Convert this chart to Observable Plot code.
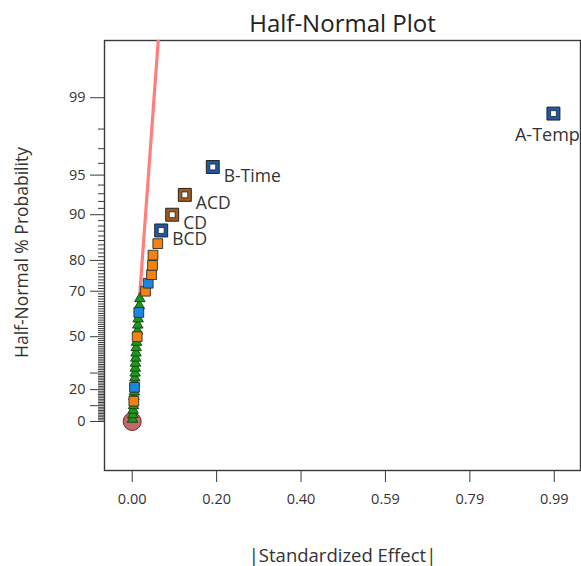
<!DOCTYPE html>
<html>
<head>
<meta charset="utf-8">
<script src="https://cdn.jsdelivr.net/npm/d3@7"></script>
<script src="https://cdn.jsdelivr.net/npm/@observablehq/plot@0.6"></script>
<style>
  html, body { margin: 0; padding: 0; background: #fff; overflow: hidden; }
  #chart svg { display: block; overflow: hidden !important; }
</style>
</head>
<body>
<div id="chart"></div>
<script>
// Terms ranked by |standardized effect| (smallest first)
const effect = [
  0.0007, 0.0014, 0.0021, 0.0030, 0.0038, 0.0042, 0.0049, 0.0054, 0.0059, 0.0063,
  0.0068, 0.0073, 0.0077, 0.0084, 0.0089, 0.0094, 0.0101, 0.0117, 0.0124, 0.0131,
  0.0138, 0.0155, 0.0167, 0.0178, 0.0312, 0.0375, 0.0453, 0.0476, 0.0488, 0.0600,
  0.068, 0.0938, 0.1234, 0.189, 0.988
];
// Half-normal % probability of each ranked term
const halfNormalPct = [
  1.43, 4.29, 7.14, 10.00, 12.86, 15.71, 18.57, 21.43, 24.29, 27.14,
  30.00, 32.86, 35.71, 38.57, 41.43, 44.29, 47.14, 50.00, 52.86, 55.71,
  58.57, 61.43, 64.29, 67.14, 70.00, 72.86, 75.71, 78.57, 81.43, 84.29,
  87.14, 90.00, 92.86, 95.71, 98.57
];
// "error" = error estimate, "pos" = positive effect, "neg" = negative effect
const termKind = [
  "error", "error", "error", "error", "neg", "error", "error", "pos", "error", "error",
  "error", "error", "error", "error", "error", "error", "error", "neg", "error", "error",
  "error", "pos", "error", "error", "neg", "pos", "neg", "neg", "neg", "neg",
  "pos", "neg", "neg", "pos", "pos"
];
// Terms chosen for the model carry a label
const termLabel = [
  "", "", "", "", "", "", "", "", "", "",
  "", "", "", "", "", "", "", "", "", "",
  "", "", "", "", "", "", "", "", "", "",
  "BCD", "CD", "ACD", "B-Time", "A-Temp"
];

// Reference line through the error terms
const lineEffect = [-0.004, 0.061];
const linePct = [0, 99.755];

// Axis ticks
const xTicks = [0, 0.198, 0.396, 0.594, 0.792, 0.99];
const yLabelPct = [0, 20, 50, 70, 80, 90, 95, 99];
const yLongPct = [10, 30];
const yMinorPct = d3.range(1, 99).filter(p => !yLabelPct.includes(p) && !yLongPct.includes(p));

// Inverse standard normal CDF (Acklam's rational approximation)
function probit(p) {
  const a = [-3.969683028665376e+01, 2.209460984245205e+02, -2.759285104469687e+02,
             1.383577518672690e+02, -3.066479806614716e+01, 2.506628277459239e+00];
  const b = [-5.447609879822406e+01, 1.615858368580409e+02, -1.556989798598866e+02,
             6.680131188771972e+01, -1.328068155288572e+01];
  const c = [-7.784894002430293e-03, -3.223964580411365e-01, -2.400758277161838e+00,
             -2.549732539343734e+00, 4.374664141464968e+00, 2.938163982698783e+00];
  const d = [7.784695709041462e-03, 3.224671290700398e-01, 2.445134137142996e+00,
             3.754408661907416e+00];
  const pl = 0.02425;
  if (p < pl) {
    const q = Math.sqrt(-2 * Math.log(p));
    return (((((c[0]*q + c[1])*q + c[2])*q + c[3])*q + c[4])*q + c[5]) /
           ((((d[0]*q + d[1])*q + d[2])*q + d[3])*q + 1);
  }
  if (p > 1 - pl) {
    const q = Math.sqrt(-2 * Math.log(1 - p));
    return -(((((c[0]*q + c[1])*q + c[2])*q + c[3])*q + c[4])*q + c[5]) /
            ((((d[0]*q + d[1])*q + d[2])*q + d[3])*q + 1);
  }
  const q = p - 0.5, r = q * q;
  return (((((a[0]*r + a[1])*r + a[2])*r + a[3])*r + a[4])*r + a[5]) * q /
         (((((b[0]*r + b[1])*r + b[2])*r + b[3])*r + b[4])*r + 1);
}
// Half-normal score for a percentage
const hn = pct => pct <= 0 ? 0 : probit(0.5 + pct / 200);

const terms = effect.map((e, i) => ({
  effect: e, z: hn(halfNormalPct[i]), kind: termKind[i], label: termLabel[i]
}));
const errors = terms.filter(d => d.kind === "error");
const solid = terms.filter(d => d.kind !== "error" && !d.label);
const chosen = terms.filter(d => d.label);
const lineData = lineEffect.map((e, i) => ({effect: e, z: hn(linePct[i])}));
const origin = [{effect: 0, z: hn(0)}];

const solidFill = {pos: "#1f86e0", neg: "#f5820f"};
const chosenFill = {pos: "#1d5aa6", neg: "#a05a22"};

const labelByZ = new Map(yLabelPct.map(p => [hn(p), String(p)]));
const font = "'Open Sans', 'Noto Sans', sans-serif";
const ink = "#333";

const chart = Plot.plot({
  width: 581,
  height: 566,
  marginLeft: 104,
  marginRight: 1,
  marginTop: 40,
  marginBottom: 96,
  style: {fontFamily: font, color: ink, background: "#fff"},
  x: {domain: [-0.065, 1.0515]},
  y: {domain: [-0.39, 3.031]},
  marks: [
    Plot.frame({stroke: "#3a3a3a", strokeWidth: 1.4}),
    // y axis: minor ticks at every percent, long unlabeled ticks, labeled ticks
    Plot.axisY(yMinorPct.map(hn), {tickSize: 6, tickFormat: () => "", label: null, stroke: "#3a3a3a"}),
    Plot.axisY(yLongPct.map(hn), {tickSize: 14, tickFormat: () => "", label: null, stroke: "#3a3a3a"}),
    Plot.axisY(yLabelPct.map(hn), {
      tickSize: 14, tickPadding: 5, tickFormat: z => labelByZ.get(z),
      label: null, fontSize: 14.5, stroke: "#3a3a3a", fill: ink
    }),
    Plot.axisX(xTicks, {
      tickSize: 12, tickPadding: 11, tickFormat: d3.format(".2f"),
      label: null, fontSize: 14.5, stroke: "#3a3a3a", fill: ink
    }),
    // point at the origin
    Plot.dot(origin, {x: "effect", y: "z", r: 9, fill: "#c46a6a", stroke: "#6e2626", strokeWidth: 1}),
    // reference line
    Plot.line(lineData, {x: "effect", y: "z", stroke: "#ff7f7f", strokeWidth: 3.2, clip: true}),
    // error estimates
    Plot.dot(errors, {
      x: "effect", y: "z", symbol: "triangle", r: 3.9,
      fill: "#1d9a1d", stroke: "#0d3d0d", strokeWidth: 0.9
    }),
    // unselected effects
    Plot.dot(solid, {
      x: "effect", y: "z", symbol: "square", r: 5.5,
      fill: d => solidFill[d.kind], stroke: "#2a2a2a", strokeWidth: 0.9
    }),
    // selected effects (hollow squares)
    Plot.dot(chosen, {
      x: "effect", y: "z", symbol: "square", r: 7.3,
      fill: d => chosenFill[d.kind], stroke: "#222", strokeWidth: 1
    }),
    Plot.dot(chosen, {
      x: "effect", y: "z", symbol: "square", r: 3.3,
      fill: "#fff", stroke: "#222", strokeWidth: 0.8
    }),
    // term labels
    Plot.text(chosen.filter(d => d.label !== "A-Temp"), {
      x: "effect", y: "z", text: "label", textAnchor: "start",
      dx: 11, dy: 9, fontSize: 17.5, fill: ink
    }),
    Plot.text(chosen.filter(d => d.label === "A-Temp"), {
      x: "effect", y: "z", text: "label", textAnchor: "middle",
      dx: -6, dy: 22, fontSize: 18, fill: ink
    }),
    // titles
    Plot.text(["Half-Normal Plot"], {
      frameAnchor: "top", lineAnchor: "middle", dy: -16, fontSize: 24, fill: "#222"
    }),
    Plot.text(["|Standardized Effect|"], {
      frameAnchor: "bottom", lineAnchor: "middle", dy: 86, fontSize: 18.5, fill: ink
    }),
    Plot.text(["Half-Normal % Probability"], {
      frameAnchor: "left", lineAnchor: "middle", textAnchor: "middle", rotate: -90,
      dx: -82, dy: -3, fontSize: 17.5, fill: ink
    })
  ]
});

document.getElementById("chart").appendChild(chart);
</script>
</body>
</html>
